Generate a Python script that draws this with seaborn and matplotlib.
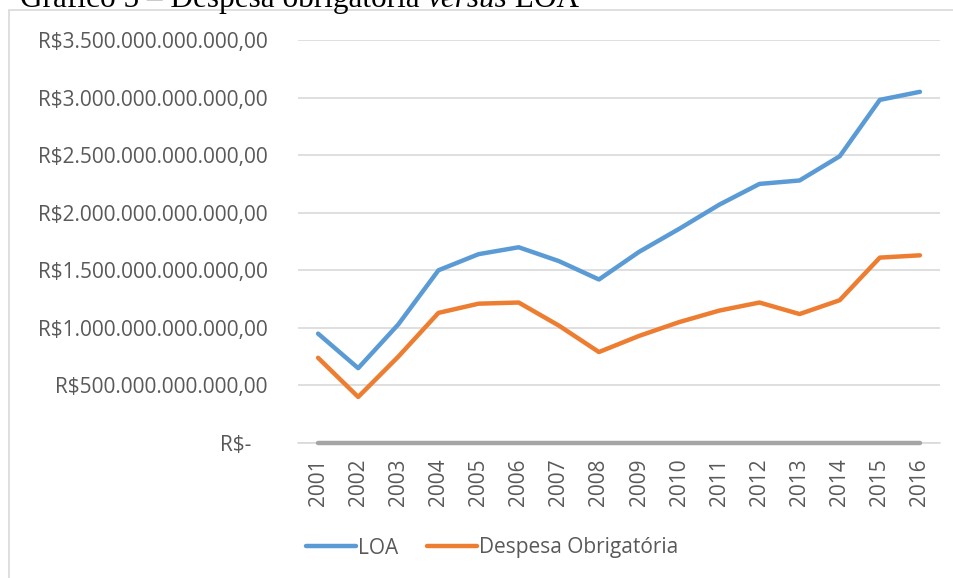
import matplotlib
matplotlib.use("Agg")
import matplotlib.pyplot as plt
import seaborn as sns
import pandas as pd
from matplotlib.patches import Rectangle
from matplotlib.lines import Line2D

years = ["2001", "2002", "2003", "2004", "2005", "2006", "2007", "2008",
         "2009", "2010", "2011", "2012", "2013", "2014", "2015", "2016"]
loa = [0.95, 0.65, 1.03, 1.50, 1.64, 1.70, 1.58, 1.42,
       1.66, 1.86, 2.07, 2.25, 2.28, 2.49, 2.98, 3.05]
despesa = [0.74, 0.40, 0.75, 1.13, 1.21, 1.22, 1.02, 0.79,
           0.93, 1.05, 1.15, 1.22, 1.12, 1.24, 1.61, 1.63]
zero_series = [0.0] * 16
yticks = [0, 0.5, 1.0, 1.5, 2.0, 2.5, 3.0, 3.5]
ytick_labels = ["R$-   ", "R$500.000.000.000,00", "R$1.000.000.000.000,00",
                "R$1.500.000.000.000,00", "R$2.000.000.000.000,00",
                "R$2.500.000.000.000,00", "R$3.000.000.000.000,00",
                "R$3.500.000.000.000,00"]
series_names = ["LOA", "Despesa Obrigatória", "Zero"]
colors = ["#5B9BD5", "#ED7D31", "#A5A5A5"]

sns.set_theme(style="white")
plt.rcParams['font.family'] = ['Open Sans', 'DejaVu Sans']

W, H = 954, 578
fig = plt.figure(figsize=(W / 100, H / 100), dpi=100)
r = fig.canvas.get_renderer()

# chart frame
fig.patches.append(Rectangle((9 / W, -0.1), 1.2, 1 - 10.5 / H + 0.1, transform=fig.transFigure,
                             fill=False, edgecolor="#D9D9D9", linewidth=1.2))

# title (partially cut at top, as in the reference)
TS = 22.5
ty = 1 - 7 / H
t1 = fig.text(20 / W, ty, "Gráfico 5 – Despesa obrigatória ", family="Liberation Serif",
              fontsize=TS, va="baseline", ha="left", color="black")
fig.canvas.draw()
x2 = t1.get_window_extent(r).x1
t2 = fig.text(x2 / W, ty, "versus", family="Liberation Serif", style="italic",
              fontsize=TS, va="baseline", ha="left", color="black")
fig.canvas.draw()
x3 = t2.get_window_extent(r).x1
fig.text(x3 / W, ty, " LOA", family="Liberation Serif",
         fontsize=TS, va="baseline", ha="left", color="black")

ax = fig.add_axes([298 / W, 1 - 443 / H, (940 - 298) / W, (443 - 40) / H])

df = pd.DataFrame({
    "year": list(range(16)) * 3,
    "value": loa + despesa + zero_series,
    "series": [series_names[0]] * 16 + [series_names[1]] * 16 + [series_names[2]] * 16,
})
for name, col in zip(series_names[::-1], colors[::-1]):
    sub = df[df["series"] == name]
    sns.lineplot(data=sub, x="year", y="value", ax=ax, color=col, linewidth=3.2,
                 solid_capstyle="round", solid_joinstyle="round", legend=False,
                 zorder=3 if name != "Zero" else 2.5, clip_on=False)

FS = 15
ax.set_xlim(-0.5, 15.5)
ax.set_ylim(0, 3.5)
ax.set_yticks(yticks)
ax.set_yticklabels(ytick_labels)
ax.set_xticks(range(16))
ax.set_xticklabels(years, rotation=90)
ax.tick_params(axis="y", length=0, pad=22, labelsize=FS, labelcolor="#595959")
ax.tick_params(axis="x", length=0, pad=11, labelsize=FS, labelcolor="#595959")
ax.set_xlabel("")
ax.set_ylabel("")
ax.grid(axis="y", color="#D9D9D9", linewidth=1.2)
ax.grid(axis="x", visible=False)
for s in ax.spines.values():
    s.set_visible(False)
ax.axhline(0, color="#D9D9D9", linewidth=1.2, zorder=2, clip_on=False)

handles = [Line2D([0], [0], color=colors[0], linewidth=3.2, solid_capstyle="round"),
           Line2D([0], [0], color=colors[1], linewidth=3.2, solid_capstyle="round")]
leg = fig.legend(handles, series_names[:2], loc="center", bbox_to_anchor=(492 / W, 1 - 548 / H),
                 ncol=2, frameon=False, fontsize=FS, handlelength=2.4, handletextpad=0.1,
                 columnspacing=1.4)
for txt in leg.get_texts():
    txt.set_color("#595959")

fig.savefig("out.png", dpi=100)
